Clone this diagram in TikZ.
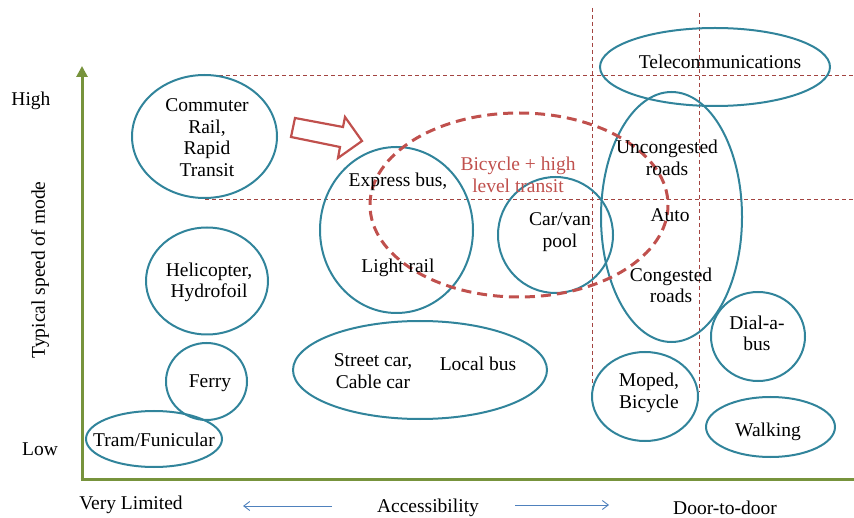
\documentclass[tikz,border=0pt]{standalone}
\usepackage{fontspec}
\setmainfont{Liberation Serif}
\usetikzlibrary{arrows.meta}
\definecolor{teal1}{RGB}{49,132,155}
\definecolor{red1}{RGB}{192,80,77}
\definecolor{green1}{RGB}{119,147,60}
\definecolor{blue1}{RGB}{79,129,189}
\tikzset{
  oval/.style={draw=teal1, line width=2pt},
  lbl/.style={align=center, inner sep=0pt, font=\fontsize{19.5}{21.5}\selectfont},
  guide/.style={draw=red1!85!black, line width=0.8pt, dash pattern=on 4pt off 3pt},
  axis/.style={draw=green1, line width=3pt},
  acc/.style={draw=blue1, line width=0.9pt, -{Straight Barb[length=6pt,width=9pt]}},
}
\begin{document}
\begin{tikzpicture}[x=1pt,y=-1pt]
\useasboundingbox (0,0) rectangle (854,518);
% guide lines
\coordinate (h1a) at (205,75); \coordinate (h1b) at (854,75);
\coordinate (h2a) at (205,199); \coordinate (h2b) at (854,199);
\coordinate (v1a) at (592,8); \coordinate (v1b) at (592,390);
\coordinate (v2a) at (699,13); \coordinate (v2b) at (699,392);
\draw[guide] (h1a) -- (h1b);
\draw[guide] (h2a) -- (h2b);
\draw[guide] (v1a) -- (v1b);
\draw[guide] (v2a) -- (v2b);
% axes
\coordinate (o) at (82,479);
\coordinate (ytop) at (82,66);
\coordinate (xend) at (854,479);
\draw[axis, -{Triangle[length=11pt,width=11pt]}] (o) -- (ytop);
\draw[axis] (80.5,479) -- (xend);
% ellipses
\draw[oval] (204.5,136.5) ellipse (72.5 and 61.5);
\draw[oval] (207,281) ellipse (61 and 53.5);
\draw[oval] (206.5,381.5) ellipse (40.5 and 38.5);
\draw[oval] (154,439) ellipse (68 and 28);
\draw[oval] (396.5,230) ellipse (76.5 and 83);
\draw[oval] (555.5,235) ellipse (57.5 and 58);
\draw[oval] (420,370) ellipse (127 and 49);
\draw[oval] (715,67) ellipse (115 and 39);
\draw[oval] (671.5,217) ellipse (70.5 and 125);
\draw[oval] (758,336.5) ellipse (47 and 44.5);
\draw[oval] (645,396.5) ellipse (53 and 44.5);
\draw[oval] (770.5,427) ellipse (64.5 and 30);
% dashed red ellipse
\draw[red1, line width=3pt, dash pattern=on 10pt off 6pt] (519,205) ellipse (149 and 92);
% block arrow
\draw[red1, line width=2.2pt, line join=miter]
  (295,118) -- (343,127) -- (345,117) -- (362,141) -- (338,158) -- (340,147) -- (291,137) -- cycle;
% labels
\node[lbl] (commuter) at (207,137.5) {Commuter\\Rail,\\Rapid\\Transit};
\node[lbl] (heli) at (209,282.5) {Helicopter,\\Hydrofoil};
\node[lbl] (ferry) at (210,383) {Ferry};
\node[lbl] (tram) at (154,440) {Tram/Funicular};
\node[lbl] (express) at (398,182) {Express bus,};
\node[lbl] (light) at (398,268) {Light rail};
\node[lbl, text=red1] (bike) at (518,175) {Bicycle + high\\level transit};
\node[lbl] (carpool) at (560,232) {Car/van\\pool};
\node[lbl] (street) at (373,371) {Street car,\\Cable car};
\node[lbl] (local) at (478,364) {Local bus};
\node[lbl] (tele) at (720,62) {Telecommunications};
\node[lbl] (uncong) at (667,158) {Uncongested\\roads};
\node[lbl] (auto) at (670,215) {Auto};
\node[lbl] (cong) at (671,285.5) {Congested\\roads};
\node[lbl] (dial) at (757,333.5) {Dial-a-\\bus};
\node[lbl] (moped) at (649,393) {Moped,\\Bicycle};
\node[lbl] (walk) at (768,432) {Walking};
\node[lbl] (high) at (31,101) {High};
\node[lbl] (low) at (40,449) {Low};
\node[lbl, rotate=90] (speed) at (40,270) {Typical speed of mode};
\node[lbl] (vlim) at (131,505) {Very Limited};
\node[lbl] (access) at (428,508) {Accessibility};
\node[lbl] (door) at (725,508) {Door-to-door};
% accessibility arrows
\coordinate (la) at (332,506); \coordinate (lb) at (243,506);
\coordinate (ra) at (515,505); \coordinate (rb) at (609,505);
\draw[acc] (la) -- (lb);
\draw[acc] (ra) -- (rb);
\end{tikzpicture}
\end{document}
